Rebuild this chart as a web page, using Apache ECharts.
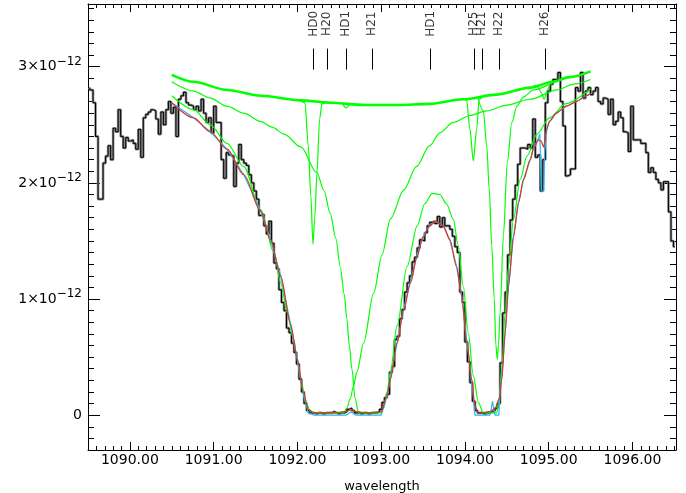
<!DOCTYPE html>
<html>
<head>
<meta charset="utf-8">
<script src="https://cdn.jsdelivr.net/npm/echarts@6.0.0/dist/echarts.min.js"></script>
<style>
  html, body { margin: 0; padding: 0; background: #fff; }
  #chart { width: 686px; height: 493px; }
</style>
</head>
<body>
<div id="chart"></div>
<script>
// flux in units of 1e-12, one value per 0.03 A bin starting at 1089.50
const wlStart = 1089.5;
const wlStep = 0.03;
const flux = [
  2.82, 2.80, 2.69, 2.40, 1.86, 1.86, 2.17, 2.23, 2.32, 2.20,
  2.47, 2.44, 2.63, 2.40, 2.30, 2.39, 2.36, 2.37, 2.34, 2.29,
  2.46, 2.22, 2.56, 2.59, 2.61, 2.63, 2.62, 2.55, 2.42, 2.61,
  2.50, 2.63, 2.70, 2.60, 2.65, 2.40, 2.72, 2.75, 2.78, 2.69,
  2.67, 2.66, 2.63, 2.66, 2.62, 2.72, 2.60, 2.52, 2.56, 2.43,
  2.66, 2.52, 2.52, 2.20, 2.04, 2.26, 2.24, 2.23, 1.97, 2.17,
  2.33, 2.20, 2.17, 2.15, 2.07, 2.00, 1.93, 1.86, 1.72, 1.73,
  1.63, 1.56, 1.67, 1.48, 1.31, 1.26, 1.08, 0.97, 0.90, 0.75,
  0.71, 0.62, 0.54, 0.44, 0.31, 0.20, 0.10, 0.04, 0.02, 0.02,
  0.01, 0.02, 0.02, 0.01, 0.02, 0.02, 0.02, 0.03, 0.02, 0.01,
  0.02, 0.02, 0.03, 0.05, 0.06, 0.04, 0.02, 0.02, 0.01, 0.02,
  0.02, 0.01, 0.02, 0.02, 0.02, 0.03, 0.05, 0.11, 0.15, 0.18,
  0.37, 0.42, 0.65, 0.68, 0.83, 0.91, 1.06, 1.14, 1.20, 1.32,
  1.36, 1.44, 1.51, 1.50, 1.57, 1.63, 1.66, 1.67, 1.65, 1.71,
  1.62, 1.70, 1.63, 1.63, 1.60, 1.54, 1.45, 1.40, 1.06, 0.97,
  0.63, 0.46, 0.28, 0.12, 0.04, 0.02, 0.02, 0.01, 0.02, 0.02,
  0.03, 0.04, 0.06, 0.10, 0.45, 0.88, 1.06, 1.38, 1.68, 1.86,
  1.98, 2.16, 2.30, 2.30, 2.29, 2.33, 2.30, 2.55, 2.22, 2.24,
  1.93, 2.20, 2.69, 2.79, 2.85, 2.89, 2.88, 2.95, 2.70, 2.49,
  2.06, 2.07, 2.12, 2.12, 2.82, 2.79, 2.95, 2.73, 2.79, 2.82,
  2.76, 2.79, 2.82, 2.70, 2.68, 2.73, 2.72, 2.59, 2.72, 2.50,
  2.53, 2.61, 2.56, 2.44, 2.43, 2.27, 2.66, 2.37, 2.37, 2.37,
  2.34, 2.34, 2.26, 2.09, 2.13, 2.09, 2.03, 2.00, 1.94, 2.01,
  2.01, 1.75, 1.50, 1.45
];

// total model (red)
const redModel = [
  [1090.50, 2.69], [1090.76, 2.56], [1090.96, 2.44], [1091.16, 2.29], [1091.36, 2.07],
  [1091.56, 1.76], [1091.68, 1.51], [1091.80, 1.20], [1091.92, 0.78], [1092.00, 0.48],
  [1092.07, 0.20], [1092.13, 0.05], [1092.20, 0.02], [1092.40, 0.02], [1092.58, 0.03],
  [1092.64, 0.05], [1092.70, 0.03], [1092.85, 0.02], [1093.00, 0.03], [1093.07, 0.17],
  [1093.11, 0.31], [1093.19, 0.62], [1093.27, 0.91], [1093.35, 1.14], [1093.43, 1.37],
  [1093.50, 1.53], [1093.58, 1.63], [1093.65, 1.67], [1093.74, 1.63], [1093.82, 1.51],
  [1093.90, 1.28], [1093.96, 1.03], [1094.02, 0.65], [1094.08, 0.31], [1094.12, 0.08],
  [1094.16, 0.02], [1094.30, 0.03], [1094.36, 0.06], [1094.41, 0.14], [1094.44, 0.31],
  [1094.48, 0.71], [1094.52, 1.11], [1094.58, 1.54], [1094.64, 1.83], [1094.70, 2.03],
  [1094.78, 2.20], [1094.82, 2.30], [1094.88, 2.37], [1094.91, 2.36], [1094.94, 2.31],
  [1094.975, 2.46], [1095.01, 2.53], [1095.09, 2.60], [1095.21, 2.66], [1095.33, 2.70],
  [1095.45, 2.75], [1095.50, 2.77]
];

// model before smoothing (cyan)
const cyanModel = [
  [1090.50, 2.69], [1090.76, 2.56], [1090.96, 2.44], [1091.16, 2.29], [1091.36, 2.07],
  [1091.56, 1.76], [1091.68, 1.51], [1091.80, 1.20], [1091.92, 0.78], [1092.00, 0.47],
  [1092.07, 0.18], [1092.13, 0.02], [1092.20, 0.00], [1092.58, 0.00], [1092.64, 0.03],
  [1092.70, 0.00], [1093.00, 0.00], [1093.07, 0.16], [1093.11, 0.31], [1093.19, 0.62],
  [1093.27, 0.92], [1093.35, 1.15], [1093.43, 1.38], [1093.50, 1.54], [1093.58, 1.64],
  [1093.65, 1.67], [1093.74, 1.63], [1093.82, 1.51], [1093.90, 1.28], [1093.96, 1.03],
  [1094.02, 0.65], [1094.08, 0.30], [1094.11, 0.08], [1094.12, 0.00], [1094.30, 0.00],
  [1094.315, 0.06], [1094.33, 0.12], [1094.345, 0.05], [1094.36, 0.00], [1094.405, 0.00],
  [1094.42, 0.22], [1094.44, 0.32], [1094.48, 0.71], [1094.52, 1.11], [1094.58, 1.54],
  [1094.64, 1.83], [1094.70, 2.03], [1094.78, 2.20], [1094.82, 2.30], [1094.875, 2.38],
  [1094.895, 2.42], [1094.911, 1.93], [1094.943, 1.93], [1094.951, 2.26], [1094.967, 2.37],
  [1094.98, 2.47], [1095.01, 2.53], [1095.09, 2.60], [1095.21, 2.66], [1095.33, 2.70],
  [1095.45, 2.75], [1095.50, 2.77]
];

// single components (green)
const greenCont = [
  [1090.50, 2.93], [1090.76, 2.87], [1091.16, 2.80], [1091.56, 2.75], [1092.04, 2.71],
  [1092.40, 2.69], [1092.80, 2.67], [1093.19, 2.67], [1093.58, 2.68], [1093.98, 2.72],
  [1094.38, 2.76], [1094.78, 2.82], [1095.05, 2.87], [1095.25, 2.91], [1095.50, 2.96]
];
const greenHD0 = [
  [1092.03, 2.71], [1092.09, 2.69], [1092.13, 2.32], [1092.16, 1.89], [1092.186, 1.47],
  [1092.207, 1.70], [1092.234, 2.09], [1092.265, 2.55], [1092.293, 2.68], [1092.33, 2.69]
];
const greenHD1 = [[1092.54, 2.68], [1092.583, 2.645], [1092.62, 2.675]];
const greenH25 = [
  [1094.00, 2.72], [1094.02, 2.71], [1094.06, 2.46], [1094.10, 2.19], [1094.14, 2.46],
  [1094.17, 2.72], [1094.20, 2.73]
];
const greenH22 = [
  [1094.15, 2.74], [1094.22, 2.62], [1094.26, 2.32], [1094.29, 1.95], [1094.32, 1.46],
  [1094.35, 1.00], [1094.37, 0.60], [1094.386, 0.48], [1094.40, 0.60], [1094.42, 0.88],
  [1094.46, 1.55], [1094.505, 2.17], [1094.56, 2.52], [1094.62, 2.66], [1094.70, 2.74],
  [1094.82, 2.80], [1095.01, 2.85]
];
const greenH26 = [
  [1094.80, 2.83], [1094.86, 2.84], [1094.91, 2.78], [1094.946, 2.72], [1094.985, 2.80],
  [1095.02, 2.85], [1095.08, 2.88]
];
const greenJ0 = [
  [1090.50, 2.75], [1090.76, 2.63], [1090.96, 2.50], [1091.16, 2.34], [1091.36, 2.14],
  [1091.56, 1.77], [1091.72, 1.40], [1091.80, 1.14], [1091.88, 0.88], [1091.95, 0.66],
  [1092.00, 0.48], [1092.04, 0.31], [1092.10, 0.12], [1092.15, 0.04], [1092.20, 0.02],
  [1092.55, 0.02], [1092.59, 0.06], [1092.63, 0.14], [1092.67, 0.25], [1092.71, 0.37],
  [1092.79, 0.62], [1092.91, 1.05], [1093.01, 1.38], [1093.11, 1.69], [1093.27, 1.94],
  [1093.42, 2.14], [1093.58, 2.32], [1093.70, 2.43], [1093.86, 2.52], [1094.06, 2.58],
  [1094.26, 2.62], [1094.50, 2.67], [1094.78, 2.72], [1095.10, 2.80], [1095.30, 2.85],
  [1095.50, 2.89]
];
const greenJ1 = [
  [1090.50, 2.87], [1090.76, 2.79], [1090.96, 2.73], [1091.16, 2.66], [1091.36, 2.60],
  [1091.56, 2.53], [1091.70, 2.48], [1091.84, 2.42], [1092.04, 2.31], [1092.23, 2.09],
  [1092.32, 1.93], [1092.39, 1.74], [1092.46, 1.52], [1092.51, 1.28], [1092.56, 1.04],
  [1092.59, 0.83], [1092.62, 0.60], [1092.65, 0.40], [1092.69, 0.14], [1092.73, 0.02],
  [1093.00, 0.02], [1093.03, 0.06], [1093.07, 0.20], [1093.11, 0.37], [1093.19, 0.77],
  [1093.31, 1.28], [1093.43, 1.63], [1093.52, 1.82], [1093.61, 1.91], [1093.70, 1.90],
  [1093.78, 1.82], [1093.86, 1.69], [1093.92, 1.46], [1093.98, 1.11], [1094.04, 0.71],
  [1094.10, 0.34], [1094.16, 0.11], [1094.22, 0.02], [1094.38, 0.02], [1094.41, 0.15],
  [1094.44, 0.40], [1094.48, 0.88], [1094.52, 1.28], [1094.58, 1.69], [1094.66, 2.03],
  [1094.74, 2.23], [1094.86, 2.42], [1095.01, 2.56], [1095.20, 2.68], [1095.50, 2.81]
];

// line identifications along the top
const lineNames = ['HD0', 'H20', 'HD1', 'H21', 'HD1', 'H25', 'H21', 'H22', 'H26'];
const lineWl = [1092.193, 1092.353, 1092.583, 1092.889, 1093.592, 1094.108, 1094.207, 1094.406, 1094.954];

const xMajor = [1090, 1091, 1092, 1093, 1094, 1095, 1096];
const yMajor = [0, 1, 2, 3];

const xMin = 1089.5, xMax = 1096.52;
const yMin = -0.3, yMax = 3.54;
const font = 'DejaVu Sans';

const chart = echarts.init(document.getElementById('chart'), null, { renderer: 'canvas' });

function xAxisDef(pos, major) {
  return {
    type: 'value', min: xMin, max: xMax, position: pos,
    interval: major ? undefined : 0.1,
    axisLine: { show: !major, onZero: false, lineStyle: { color: '#000', width: 1 } },
    axisTick: major
      ? { show: true, inside: true, length: 8, customValues: xMajor, lineStyle: { color: '#000' } }
      : { show: true, inside: true, length: 4, lineStyle: { color: '#000' } },
    axisLabel: (pos === 'bottom' && !major)
      ? { show: true, customValues: xMajor, formatter: v => v.toFixed(2), color: '#000',
          fontFamily: font, fontSize: 14, margin: 3 }
      : { show: false },
    splitLine: { show: false },
    name: (pos === 'bottom' && !major) ? 'wavelength' : '',
    nameLocation: 'middle', nameGap: 30,
    nameTextStyle: { color: '#000', fontFamily: font, fontSize: 13 }
  };
}

function yAxisDef(pos, major) {
  return {
    type: 'value', min: yMin, max: yMax, position: pos,
    interval: major ? undefined : 0.1,
    axisLine: { show: !major, onZero: false, lineStyle: { color: '#000', width: 1 } },
    axisTick: major
      ? { show: true, inside: true, length: 12, customValues: yMajor, lineStyle: { color: '#000' } }
      : { show: true, inside: true, length: 6, lineStyle: { color: '#000' } },
    axisLabel: (pos === 'left' && !major)
      ? {
          show: true, customValues: yMajor, margin: 6,
          formatter: v => v === 0 ? '{b|0}' : '{b|' + v + '×10}{s|−12}',
          rich: {
            b: { fontFamily: font, fontSize: 14, color: '#000' },
            s: { fontFamily: font, fontSize: 12, color: '#000', padding: [0, 0, 10, 0] }
          }
        }
      : { show: false },
    splitLine: { show: false }
  };
}

function greenSeries(data, width) {
  return {
    type: 'line', data: data, showSymbol: false, smooth: 0.3, smoothMonotone: 'x',
    lineStyle: { width: width || 1.2, color: '#00ff00' }, silent: true, z: 3
  };
}

const option = {
  animation: false,
  backgroundColor: '#fff',
  grid: { left: 88, right: 10, top: 4, bottom: 43, containLabel: false, outerBoundsMode: 'none' },
  xAxis: [xAxisDef('bottom', false), xAxisDef('bottom', true), xAxisDef('top', false), xAxisDef('top', true)],
  yAxis: [yAxisDef('left', false), yAxisDef('left', true), yAxisDef('right', false), yAxisDef('right', true)],
  series: [
    {
      type: 'line', step: 'middle', showSymbol: false, silent: true, z: 1,
      data: flux.map((v, i) => [wlStart + wlStep * (i + 0.5), v]),
      lineStyle: { width: 2.6, color: '#8a8a8a' }
    },
    {
      type: 'line', step: 'middle', showSymbol: false, silent: true, z: 2,
      data: flux.map((v, i) => [wlStart + wlStep * (i + 0.5), v]),
      lineStyle: { width: 1, color: '#000' }
    },
    greenSeries(greenJ0),
    greenSeries(greenJ1),
    greenSeries(greenHD0),
    greenSeries(greenHD1),
    greenSeries(greenH25),
    greenSeries(greenH22),
    greenSeries(greenH26),
    greenSeries(greenCont, 2.6),
    {
      type: 'line', data: cyanModel, showSymbol: false, silent: true, z: 4,
      lineStyle: { width: 1.2, color: '#29b6f6' }
    },
    {
      type: 'line', data: redModel, showSymbol: false, smooth: 0.3, smoothMonotone: 'x', silent: true, z: 5,
      lineStyle: { width: 1.2, color: '#dd3322' }
    },
    {
      type: 'scatter', silent: true, z: 6, symbolSize: 1,
      itemStyle: { color: 'rgba(0,0,0,0)' },
      data: lineWl.map(w => [w, 3.37]),
      label: {
        show: true, position: 'inside', rotate: 90, color: '#000',
        fontFamily: font, fontSize: 12,
        formatter: p => lineNames[p.dataIndex]
      },
      markLine: {
        silent: true, symbol: 'none', label: { show: false },
        lineStyle: { color: '#000', width: 1, type: 'solid' },
        data: lineWl.map(w => [{ coord: [w, 2.975] }, { coord: [w, 3.156] }])
      }
    }
  ]
};

chart.setOption(option);
</script>
</body>
</html>
